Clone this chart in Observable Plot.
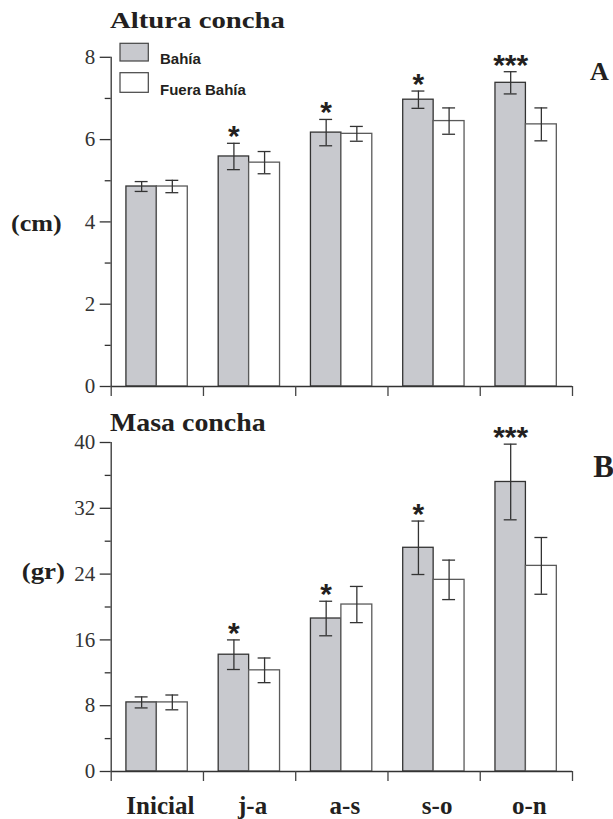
<!DOCTYPE html>
<html><head><meta charset="utf-8">
<script src="https://cdn.jsdelivr.net/npm/d3@7"></script>
<script src="https://cdn.jsdelivr.net/npm/@observablehq/plot@0.6"></script>
<style>
body{margin:0;background:#fff;}
#wrap{position:relative;width:613px;height:819px;overflow:hidden;background:#fff;}
#wrap svg{position:absolute;left:0;}
</style></head><body><div id="wrap"></div>
<script>
// ---- data ----
const categories = ["Inicial", "j-a", "a-s", "s-o", "o-n"];
const series = ["Bahía", "Fuera Bahía"];
const alturaBahia    = [4.86, 5.59, 6.17, 6.97, 7.38];
const alturaBahiaErr = [0.12, 0.32, 0.32, 0.21, 0.27];
const alturaFuera    = [4.86, 5.44, 6.14, 6.45, 6.37];
const alturaFueraErr = [0.15, 0.27, 0.18, 0.32, 0.40];
const masaBahia      = [8.4, 14.2, 18.6, 27.2, 35.2];
const masaBahiaErr   = [0.67, 1.8, 2.1, 3.25, 4.6];
const masaFuera      = [8.4, 12.3, 20.3, 23.3, 25.0];
const masaFueraErr   = [0.9, 1.5, 2.2, 2.4, 3.45];
const signif = ["", "*", "*", "*", "***"];
const alturaTicks = [0, 2, 4, 6, 8];
const alturaMinor = [1, 3, 5, 7];
const masaTicks = [0, 8, 16, 24, 32, 40];
const masaMinor = [4, 12, 20, 28, 36];

// ---- layout constants ----
const BAR = [[0.165, 0.495], [0.495, 0.83]];
const CAP = 0.07;
const INK = "#231f20";
const SERIF = "'Liberation Serif', 'Times New Roman', serif";
const SANS = "'Liberation Sans', Arial, sans-serif";

function rows(b, be, f, fe) {
  const out = [];
  categories.forEach((c, i) => {
    [[b[i], be[i]], [f[i], fe[i]]].forEach(([v, e], s) => {
      const x1 = i + BAR[s][0], x2 = i + BAR[s][1];
      out.push({cat: c, i, s, series: series[s], value: v, lo: v - e, hi: v + e,
                x1, x2, xc: (x1 + x2) / 2, sig: s === 0 ? signif[i] : ""});
    });
  });
  return out;
}

function chart({data, yMax, ticks, minor, height, marginTop, marginBottom, labels}) {
  const marks = [
    Plot.rect(data.filter(d => d.s === 0), {x1: "x1", x2: "x2", y1: () => 0, y2: "value",
      fill: "#c8c9ce", stroke: "#333", strokeWidth: 1.3}),
    Plot.rect(data.filter(d => d.s === 1), {x1: "x1", x2: "x2", y1: () => 0, y2: "value",
      fill: "#ffffff", stroke: "#5a5a5a", strokeWidth: 1.3}),
    Plot.ruleX(data, {x: "xc", y1: "lo", y2: "hi", stroke: "#333", strokeWidth: 1.3}),
    Plot.ruleY(data, {x1: d => d.xc - CAP, x2: d => d.xc + CAP, y: "hi", stroke: "#333", strokeWidth: 1.3}),
    Plot.ruleY(data, {x1: d => d.xc - CAP, x2: d => d.xc + CAP, y: "lo", stroke: "#333", strokeWidth: 1.3}),
    Plot.text(data.filter(d => d.sig), {x: "xc", y: "hi", text: "sig", lineAnchor: "bottom", dy: 3,
      fontFamily: SANS, fontWeight: "bold", fontSize: 30, fill: INK}),
    Plot.ruleX([0], {y1: () => 0, y2: () => yMax, stroke: "#333", strokeWidth: 1.3}),
    Plot.ruleY([0], {x1: () => 0, x2: () => 5, stroke: "#333", strokeWidth: 1.3}),
    Plot.axisY(ticks, {tickSize: 11, tickPadding: 5, fontSize: 21, fontFamily: SERIF,
      fill: "#333", stroke: "#333", strokeWidth: 1.3, label: null, tickFormat: d => d}),
    Plot.axisY(minor, {tickSize: 6, stroke: "#333", strokeWidth: 1.3, label: null, tickFormat: () => ""}),
    Plot.axisX([0, 1, 2, 3, 4, 5], {tickSize: 10, stroke: "#444", strokeWidth: 1.3, label: null, tickFormat: () => ""})
  ];
  if (labels) {
    marks.push(Plot.text(categories, {x: (d, i) => i + 0.5, y: () => 0, text: d => d, dy: 42.3, dx: 3,
      lineAnchor: "bottom", fontSize: 25, fontWeight: "bold", fontFamily: SERIF, fill: INK}));
  }
  return Plot.plot({
    width: 613, height, marginLeft: 110.7, marginRight: 41, marginTop, marginBottom,
    x: {domain: [0, 5]},
    y: {domain: [0, yMax]},
    style: {fontFamily: SERIF, background: "transparent", overflow: "visible"},
    marks
  });
}

const wrap = document.getElementById("wrap");
const c1 = chart({data: rows(alturaBahia, alturaBahiaErr, alturaFuera, alturaFueraErr),
  yMax: 8, ticks: alturaTicks, minor: alturaMinor, height: 400, marginTop: 56.8, marginBottom: 14, labels: false});
c1.style.top = "0px";
wrap.appendChild(c1);
const c2 = chart({data: rows(masaBahia, masaBahiaErr, masaFuera, masaFueraErr),
  yMax: 40, ticks: masaTicks, minor: masaMinor, height: 419, marginTop: 42, marginBottom: 48, labels: true});
c2.style.top = "400px";
wrap.appendChild(c2);

// ---- titles, unit labels, panel letters, legend ----
const ov = d3.select(wrap).append("svg").attr("width", 613).attr("height", 819)
  .style("top", "0px").style("pointer-events", "none");
function txt(x, y, s, size, family, len) {
  const t = ov.append("text").attr("x", x).attr("y", y).text(s)
    .attr("font-size", size).attr("font-family", family).attr("font-weight", "bold").attr("fill", INK);
  if (len) t.attr("textLength", len).attr("lengthAdjust", "spacingAndGlyphs");
  return t;
}
txt(110, 27.7, "Altura  concha", 23, SERIF, 175);
txt(110, 430.7, "Masa concha", 25, SERIF, 155.7);
txt(11, 230.5, "(cm)", 24, SERIF, 50.7);
txt(21.7, 579, "(gr)", 24, SERIF, 43.3);
txt(590, 80, "A", 26, SERIF);
txt(593.3, 477.3, "B", 31, SERIF);
ov.append("rect").attr("x", 120).attr("y", 43.3).attr("width", 28.3).attr("height", 17.7)
  .attr("fill", "#c8c9ce").attr("stroke", "#444").attr("stroke-width", 1.2);
ov.append("rect").attr("x", 120).attr("y", 72.7).attr("width", 28.3).attr("height", 19.6)
  .attr("fill", "#fff").attr("stroke", "#444").attr("stroke-width", 1.2);
txt(160, 64, series[0], 15, SANS);
txt(160, 95, series[1], 15, SANS);
</script></body></html>
